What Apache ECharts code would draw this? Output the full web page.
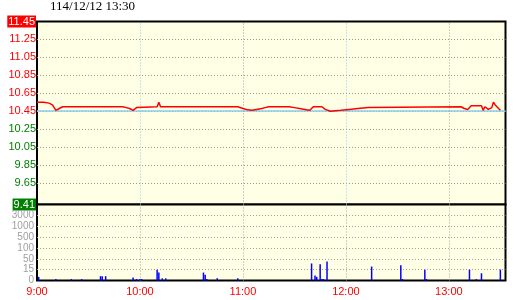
<!DOCTYPE html>
<html><head><meta charset="utf-8">
<script src="https://cdn.jsdelivr.net/npm/echarts@6/dist/echarts.min.js"></script>
<style>html,body{margin:0;padding:0;background:#fff}#c{width:520px;height:300px}</style>
</head><body><div id="c"></div>
<script>
const titleText = '114/12/12 13:30';
const timeLabels = ['9:00', '10:00', '11:00', '12:00', '13:00'];
const priceTicks = [9.41, 9.65, 9.85, 10.05, 10.25, 10.45, 10.65, 10.85, 11.05, 11.25, 11.45];
const priceMin = 9.41;
const priceMax = 11.45;
const prevClose = 10.45;
// [minute since 9:00, price]
const priceData = [[0,10.55],[4,10.55],[5,10.54],[7,10.54],[8,10.53],[9,10.52],[10,10.52],[11,10.46],[12,10.47],[13,10.48],[14,10.49],[15,10.50],
  [50,10.50],[52,10.49],[54,10.48],[56,10.46],[58,10.49],[59,10.50],[70,10.50],[71,10.55],[72,10.50],
  [117,10.50],[118,10.49],[120,10.48],[122,10.47],[125,10.46],[128,10.47],[131,10.48],[133,10.49],[135,10.50],
  [147,10.50],[148,10.49],[150,10.49],[151,10.48],[153,10.48],[154,10.47],[156,10.47],[157,10.46],[159,10.46],[160,10.45],[161,10.50],
  [166,10.50],[167,10.49],[168,10.47],[169,10.45],[171,10.45],[172,10.46],[177,10.46],[178,10.47],[182,10.47],[183,10.48],[187,10.48],[188,10.49],[193,10.49],[194,10.50],
  [247,10.50],[249,10.48],[251,10.47],[252,10.46],[253,10.51],[259,10.51],[260,10.46],[261,10.50],[263,10.47],[264,10.46],[265,10.49],[266,10.55],[267,10.52],[269,10.48],[270,10.46]];
// [minute since 9:00, volume]
const volData = [[1,5],[11,2],[20,2],[26,2],[37,6],[38,6],[40,6],[56,4],[58,2],[60,2],[61,2],[70,15],[71,11],[73,3],[75,3],
  [97,11],[98,8],[99,2],[105,3],[117,3],[160,35],[162,7],[163,5],[165,32],[166,2],[167,2],[169,41],
  [195,25],[212,29],[213,2],[226,15],[227,2],[252,15],[256,2],[259,10],[270,15]];
const volBreaks = [0, 15, 50, 100, 500, 1000, 3000];
const volTickLabels = ['0', '15', '50', '100', '500', '1000', '3000'];

function volToAxis(v) {
  for (let i = 1; i < volBreaks.length; i++) {
    if (v <= volBreaks[i]) return (i - 1) + (v - volBreaks[i-1]) / (volBreaks[i] - volBreaks[i-1]);
  }
  const n = volBreaks.length - 1;
  return n + (v - volBreaks[n]) / (volBreaks[n] - volBreaks[n-1]);
}

const FONT = 'Liberation Sans';
const gridL = 37, gridW = 468.5;
const chart = echarts.init(document.getElementById('c'), null, {renderer: 'canvas'});
const gray = '#a0a0a0', blue = '#93c6ee';
const vmark = (x, c) => ({xAxis: x, lineStyle: {color: c, type: [1, 2], width: 1}});

chart.setOption({
  animation: false,
  backgroundColor: '#ffffff',
  title: {text: titleText, left: 50, top: 0, padding: 0,
    textStyle: {fontFamily: 'Liberation Serif', fontSize: 13, fontWeight: 'normal', color: '#000'}},
  grid: [
    {left: gridL, width: gridW, top: 21.5, height: 183, show: true, backgroundColor: '#ffffe6', borderColor: '#000', borderWidth: 2, containLabel: false},
    {left: gridL, width: gridW, top: 204.5, height: 76, show: true, backgroundColor: '#ffffe6', borderColor: '#000', borderWidth: 2, containLabel: false}
  ],
  xAxis: [
    {type: 'value', gridIndex: 0, min: 0, max: 273, interval: 60,
      axisLine: {show: false}, axisTick: {show: false}, axisLabel: {show: false}, splitLine: {show: false}},
    {type: 'value', gridIndex: 1, min: 0, max: 273, interval: 60,
      axisLine: {show: false}, axisTick: {show: false},
      axisLabel: {show: true, margin: 6, color: '#ff0000', fontFamily: FONT, fontSize: 11, showMinLabel: true, showMaxLabel: true,
        formatter: v => (v % 60 === 0 && v / 60 < timeLabels.length) ? timeLabels[v / 60] : ''},
      splitLine: {show: true, showMinLine: false, showMaxLine: false, lineStyle: {color: gray, type: [1, 2], width: 1}}}
  ],
  yAxis: [
    {type: 'value', gridIndex: 0, min: priceMin, max: priceMax,
      axisLine: {show: false}, axisTick: {show: false, customValues: priceTicks},
      axisLabel: {customValues: priceTicks, margin: 1, fontFamily: FONT, fontSize: 11,
        formatter: v => {
          const s = v.toFixed(2);
          if (Math.abs(v - priceMax) < 1e-6) return '{up|' + s + '}';
          if (Math.abs(v - priceMin) < 1e-6) return '{dn|' + s + '}';
          return v >= prevClose - 1e-6 ? '{r|' + s + '}' : '{g|' + s + '}';
        },
        rich: {
          up: {color: '#fff', backgroundColor: '#ff0000', padding: [1, 1, 0, 1], fontFamily: FONT, fontSize: 11},
          dn: {color: '#fff', backgroundColor: '#008000', padding: [1, 1, 0, 1], fontFamily: FONT, fontSize: 11},
          r: {color: '#ff0000', fontFamily: FONT, fontSize: 11},
          g: {color: '#008000', fontFamily: FONT, fontSize: 11}
        }},
      splitLine: {show: true, showMinLine: false, showMaxLine: false, lineStyle: {color: '#999', type: [1, 2], width: 1}}},
    {type: 'value', gridIndex: 1, min: 0, max: 7, interval: 1,
      axisLine: {show: false}, axisTick: {show: false},
      axisLabel: {margin: 3, color: '#a0a0a0', fontFamily: FONT, fontSize: 10,
        formatter: v => (v < volTickLabels.length ? volTickLabels[v] : '')},
      splitLine: {show: true, showMinLine: false, showMaxLine: false, lineStyle: {color: gray, type: [1, 2], width: 1}}}
  ],
  series: [
    {type: 'line', xAxisIndex: 0, yAxisIndex: 0, data: priceData, showSymbol: false, symbol: 'none',
      lineStyle: {color: '#ff0000', width: 1.5}, z: 5,
      markLine: {silent: true, symbol: ['none', 'none'], label: {show: false}, animation: false,
        data: [
          {yAxis: prevClose, lineStyle: {color: '#87ceeb', type: 'solid', width: 1.5}},
          vmark(60, blue), vmark(120, gray), vmark(180, blue), vmark(240, gray)
        ]}},
    {type: 'bar', xAxisIndex: 1, yAxisIndex: 1, barWidth: 1.5,
      data: volData.map(d => [d[0], volToAxis(d[1])]),
      itemStyle: {color: '#0000ff'}}
  ]
});
</script></body></html>
